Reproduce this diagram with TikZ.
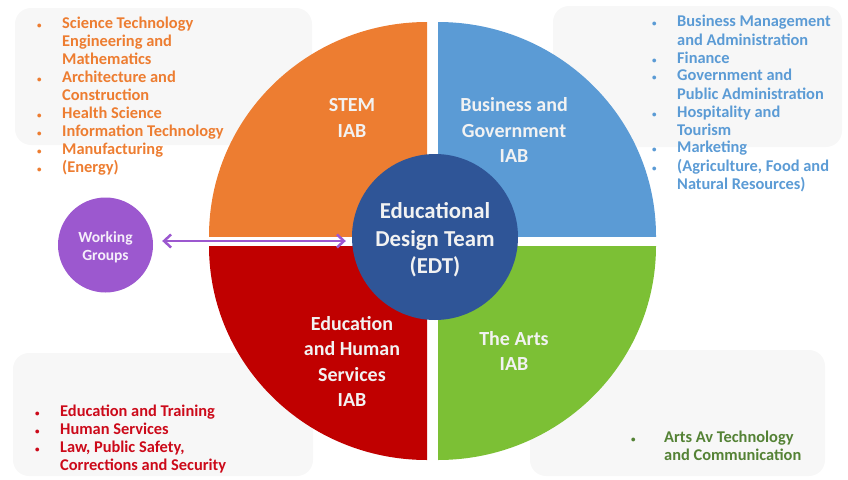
\documentclass[tikz,border=0pt]{standalone}
\usepackage{fontspec}
\setmainfont{Carlito}
\usetikzlibrary{arrows.meta}
\definecolor{qorange}{HTML}{ED7D31}
\definecolor{qblue}{HTML}{5B9BD5}
\definecolor{qred}{HTML}{C00000}
\definecolor{qgreen}{HTML}{7CC035}
\definecolor{tgreen}{HTML}{548235}
\definecolor{tred}{HTML}{CC0A1A}
\definecolor{edtblue}{HTML}{2F5597}
\definecolor{wgpurple}{HTML}{9C58CF}
\definecolor{panelgray}{HTML}{F7F7F7}
\newcommand\blt{{\fontsize{9}{9}\selectfont\textbullet}}
\tikzset{
  panel/.style={fill=panelgray, rounded corners=16pt},
  qlabel/.style={text=white!95!black, font=\bfseries\fontsize{20}{25.5}\selectfont, align=center, inner sep=0pt},
  listtext/.style={anchor=base west, inner sep=0pt, font=\bfseries\fontsize{16.4}{18}\selectfont},
  twoway/.style={draw=wgpurple, line width=2.5pt,
    {Straight Barb[length=7pt,width=13pt]}-{Straight Barb[length=7pt,width=13pt]}},
}
\begin{document}
\begin{tikzpicture}[x=1pt,y=-1pt]
\useasboundingbox (0,0) rectangle (848,479);
% panels
\fill[panel] (15,8) rectangle (312,145);
\fill[panel] (553,6) rectangle (842,147);
\fill[panel] (13,353) rectangle (313,476);
\fill[panel] (530,350) rectangle (825,476);
% quadrants
\begin{scope}
\clip (0,0) rectangle (427,236);
\fill[qorange] (427,236) ellipse [x radius=218pt, y radius=214pt];
\end{scope}
\begin{scope}
\clip (438,0) rectangle (848,236);
\fill[qblue] (438,236) ellipse [x radius=218pt, y radius=214pt];
\end{scope}
\begin{scope}
\clip (0,246) rectangle (427,479);
\fill[qred] (427,246) ellipse [x radius=218pt, y radius=214pt];
\end{scope}
\begin{scope}
\clip (438,246) rectangle (848,479);
\fill[qgreen] (438,246) ellipse [x radius=218pt, y radius=214pt];
\end{scope}
% quadrant labels
\node[qlabel] (stem) at (352,118) {STEM\\IAB};
\node[qlabel] (bus) at (514,130) {Business and\\Government\\IAB};
\node[qlabel] (edu) at (352,361.5) {Education\\and Human\\Services\\IAB};
\node[qlabel] (arts) at (514,351) {The Arts\\IAB};
% centre
\node[circle, fill=edtblue, minimum size=166pt, inner sep=0pt] (edt) at (435,237) {};
\node[text=white!95!black, inner sep=0pt,
  font=\bfseries\fontsize{22.8}{27.5}\selectfont, align=center] (edttext) at (435,240)
  {Educational\\Design Team\\(EDT)};
\node[circle, fill=wgpurple, minimum size=95pt, inner sep=0pt] (wg) at (105.5,245) {};
\node[text=white!90!wgpurple, inner sep=0pt,
  font=\bfseries\fontsize{15.5}{18}\selectfont, align=center] (wgtext) at (105.5,247)
  {Working\\Groups};
\draw[twoway] ([shift={(9,-4)}]wg.east) -- ([shift={(-6,4)}]edt.west);
% lists
\node[listtext, text=qorange] (l1) at (37,28) {\begin{tabular}[t]{@{}p{25pt}@{}l@{}}
\blt & Science Technology\\ & Engineering and\\ & Mathematics\\
\blt & Architecture and\\ & Construction\\
\blt & Health Science\\
\blt & Information Technology\\
\blt & Manufacturing\\
\blt & (Energy)
\end{tabular}};
\node[listtext, text=qblue] (l2) at (652,27) {\begin{tabular}[t]{@{}p{25pt}@{}l@{}}
\blt & Business Management\\ & and Administration\\
\blt & Finance\\
\blt & Government and\\ & Public Administration\\
\blt & Hospitality and\\ & Tourism\\
\blt & Marketing\\
\blt & (Agriculture, Food and\\ & Natural Resources)
\end{tabular}};
\node[listtext, text=tred] (l3) at (35,416) {\begin{tabular}[t]{@{}p{25pt}@{}l@{}}
\blt & Education and Training\\
\blt & Human Services\\
\blt & Law, Public Safety,\\ & Corrections and Security
\end{tabular}};
\node[listtext, text=tgreen] (l4) at (631,442) {\begin{tabular}[t]{@{}p{33pt}@{}l@{}}
\blt & Arts Av Technology\\ & and Communication
\end{tabular}};
\end{tikzpicture}
\end{document}
